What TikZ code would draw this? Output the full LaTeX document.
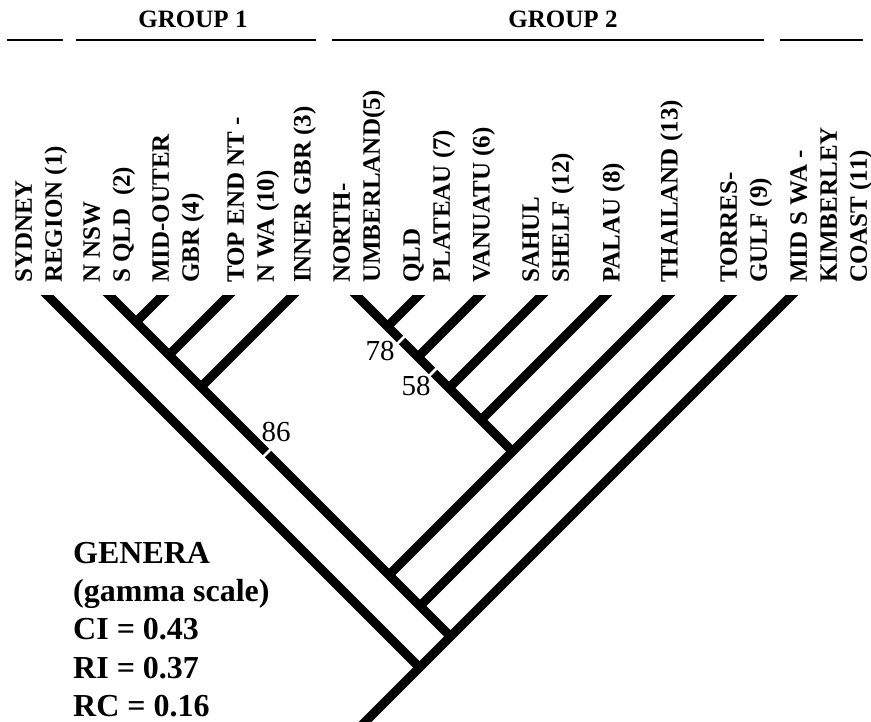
\documentclass[tikz,border=0pt]{standalone}
\usepackage{fontspec}
\setmainfont{Liberation Serif}
\usetikzlibrary{calc}

\begin{document}
\begin{tikzpicture}[
  x=1pt, y=-1pt,
  taxon/.style={rotate=90, anchor=north west, align=left, inner sep=0pt, font=\fontsize{25}{30}\selectfont\bfseries},
  grp/.style={anchor=base, inner sep=0pt, font=\fontsize{25}{30}\selectfont\bfseries},
  boot/.style={inner sep=0pt, font=\fontsize{29}{30}\selectfont},
  legend/.style={anchor=north west, align=left, inner sep=0pt, font=\fontsize{32}{38.3}\selectfont\bfseries},
  branch/.style={line width=9pt, line cap=butt},
  gap/.style={white, line width=2.5pt},
  rule/.style={line width=2.5pt}
]
\useasboundingbox (0,0) rectangle (871,722);

% group headers
\node[grp] (grp1) at (193,28) {GROUP 1};
\node[grp] (grp2) at (563,28) {GROUP 2};
\foreach \a/\b in {7/63, 76/316, 332/764, 780/863}
  \draw[rule] (\a,40) -- (\b,40);

% taxa
\node[taxon] (syd)    at (15,283)  {SYDNEY\\REGION (1)};
\node[taxon] (nnsw)   at (83,283)  {N NSW\\S QLD\ \ (2)};
\node[taxon] (mid)    at (152,283) {MID-OUTER\\GBR (4)};
\node[taxon] (topend) at (227,283) {TOP END NT -\\N WA (10)};
\node[taxon] (inner)  at (293,283) {INNER GBR (3)};
\node[taxon] (north)  at (333,283) {NORTH-\\UMBERLAND(5)};
\node[taxon] (plat)   at (403,283) {QLD\\PLATEAU (7)};
\node[taxon] (van)    at (472,283) {VANUATU (6)};
\node[taxon] (sahul)  at (522,283) {SAHUL\\SHELF (12)};
\node[taxon] (palau)  at (602,283) {PALAU (8)};
\node[taxon] (thai)   at (660,283) {THAILAND (13)};
\node[taxon] (torres) at (720,283) {TORRES-\\GULF (9)};
\node[taxon] (mswa)   at (790,283) {MID S WA -\\KIMBERLEY\\COAST (11)};

% tips
\foreach \n/\x in {syd/48, nnsw/110, mid/162, topend/228, inner/292, north/357,
  plat/418, van/479, sahul/541, palau/605, thai/668, torres/730, mswa/791}
  \coordinate (t-\n) at (\x,296);

% junctions
\coordinate (j-mid)    at (136,322);
\coordinate (j-topend) at (169,355);
\coordinate (j-inner)  at (201,387);
\coordinate (j-plat)   at (387.5,326.5);
\coordinate (j-van)    at (418,357);
\coordinate (j-sahul)  at (449,388);
\coordinate (j-palau)  at (481,420);
\coordinate (j-north)  at (512.5,451.5);
\coordinate (j-thai)   at (389,575);
\coordinate (j-torres) at (420,606);
\coordinate (j-mswa)   at (450.5,636.5);
\coordinate (j-root)   at (419.5,667.5);
\coordinate (root)     at (365,722);

\begin{scope}
  \clip (0,296) rectangle (871,722);
  \begin{scope}[branch, shorten <=-10pt]
    \draw (t-syd) -- (j-root);
    \draw (t-nnsw) -- (j-mswa);
    \draw (t-mid) -- (j-mid);
    \draw (t-topend) -- (j-topend);
    \draw (t-inner) -- (j-inner);
    \draw (t-north) -- (j-north);
    \draw (t-plat) -- (j-plat);
    \draw (t-van) -- (j-van);
    \draw (t-sahul) -- (j-sahul);
    \draw (t-palau) -- (j-palau);
    \draw (t-thai) -- (j-thai);
    \draw (t-torres) -- (j-torres);
    \draw[shorten >=-10pt] (t-mswa) -- (root);
  \end{scope}
\end{scope}

% support values
\coordinate (c86) at (267,453);
\coordinate (c78) at (401,340);
\coordinate (c58) at (433,372);
\foreach \c in {c86, c78, c58}
  \draw[gap] ($(\c)+(-6,6)$) -- ($(\c)+(6,-6)$);
\node[boot] (b86) at (276,432) {86};
\node[boot] (b78) at (380,351) {78};
\node[boot] (b58) at (416,386) {58};

% indices
\node[legend] (leg) at (73,542) {GENERA\\(gamma scale)\\CI = 0.43\\RI = 0.37\\RC = 0.16};
\end{tikzpicture}
\end{document}
